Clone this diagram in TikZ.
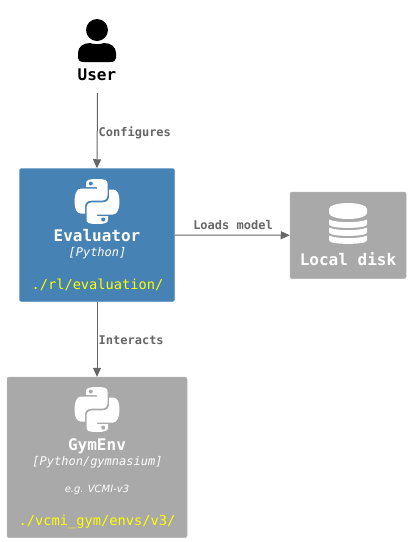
\documentclass[tikz,border=0pt]{standalone}
\usepackage{fontspec}
\setmonofont{DejaVu Sans Mono}
\usetikzlibrary{arrows.meta}
\definecolor{evalblue}{HTML}{4682B4}
\definecolor{evalline}{HTML}{6A9CC6}
\definecolor{extgray}{HTML}{A9A9A9}
\definecolor{extline}{HTML}{B4B4B4}
\definecolor{linkgray}{HTML}{666666}
\definecolor{pathyellow}{HTML}{FFFF00}
\tikzset{
  x=1pt,y=-1pt,
  blue box/.style={draw=evalline,fill=evalblue,rounded corners=2pt,line width=.5pt,inner sep=0pt},
  gray box/.style={draw=extline,fill=extgray,rounded corners=2pt,line width=.5pt,inner sep=0pt},
  txt/.style={inner sep=0pt,anchor=base,font=\ttfamily},
  titletxt/.style={txt,text=white,font=\ttfamily\bfseries\fontsize{16}{18}\selectfont},
  techtxt/.style={txt,text=white,font=\ttfamily\itshape\fontsize{12}{14}\selectfont},
  notetxt/.style={txt,text=white,font=\sffamily\itshape\fontsize{10}{12}\selectfont},
  pathtxt/.style={txt,text=pathyellow,font=\ttfamily\fontsize{13.7}{16}\selectfont},
  linktxt/.style={txt,text=linkgray,font=\ttfamily\bfseries\fontsize{12}{14}\selectfont},
  link/.style={draw=linkgray,line width=1pt,-{Triangle[length=9pt,width=8pt]}},
  pics/pysnake/.style={code={
    \fill[white] (-11,-15) -- (-11,-18) .. controls (-11,-21.5) and (-8,-22.5) .. (0,-22.5)
      .. controls (8,-22.5) and (10.5,-21.5) .. (10.5,-18) -- (10.5,-6)
      .. controls (10.5,-3) and (8.5,-.8) .. (5.5,-.8) -- (-5.5,-.8)
      .. controls (-10,-.8) and (-12,1.5) .. (-12,5) -- (-12,12) -- (-16,12)
      .. controls (-20.5,12) and (-22.5,7) .. (-22.5,0)
      .. controls (-22.5,-7) and (-20.5,-13) .. (-16,-13) -- (0,-13) -- (0,-14.5) -- (-11,-14.5) -- cycle;
    \fill[#1] (-6.2,-18) circle[radius=2];
  }},
  pics/pylogo/.style={code={
    \pic {pysnake=#1};
    \pic[rotate=180] {pysnake=#1};
  }}
}
\setsansfont{DejaVu Sans}
\begin{document}
\begin{tikzpicture}
\useasboundingbox (0,0) rectangle (411,542);
\fill[white] (0,0) rectangle (411,542);

% user icon
\fill[black] (97,30) circle[radius=11];
\fill[black] (84,62) .. controls (80,62) and (78,60.5) .. (78,58) -- (78,53)
  .. controls (78,47) and (83,43) .. (90,43)
  .. controls (93,44.5) and (101,44.5) .. (104,43)
  .. controls (111,43) and (116,47) .. (116,53) -- (116,58)
  .. controls (116,60.5) and (114,62) .. (110,62) -- cycle;
\node[inner sep=0pt,minimum width=38pt,minimum height=38pt] (user) at (97.5,74) {};
\node[txt,font=\ttfamily\bfseries\fontsize{16}{18}\selectfont] (usertxt) at (97,80) {User};

% boxes
\node[blue box,minimum width=155pt,minimum height=133pt] (eval) at (97,235) {};
\node[gray box,minimum width=116pt,minimum height=86.5pt] (disk) at (348,235.25) {};
\node[gray box,minimum width=180pt,minimum height=160.5pt] (gym) at (97,457.3) {};

% connectors
\draw[link] (user.south) -- (eval.north);
\draw[link] (eval.east) -- (disk.west);
\draw[link] (eval.south) -- (gym.north);
\node[linktxt,anchor=base west] (cfg) at (98.5,136) {Configures};
\node[linktxt] (loads) at (233,229.5) {Loads model};
\node[linktxt,anchor=base west] (inter) at (98.5,344) {Interacts};

% evaluator content
\pic at (97,201.5) {pylogo=evalblue};
\node[titletxt] (evalt) at (97,241) {Evaluator};
\node[techtxt] (evalp) at (97.5,256) {[Python]};
\node[pathtxt] (evald) at (97.5,289.3) {./rl/evaluation/};

% disk content
\foreach \yy in {219.5,227.5,235.5}{
  \fill[white] (329,\yy) .. controls (336,\yy+3.5) and (360,\yy+3.5) .. (367,\yy)
    -- (367,\yy+5) .. controls (367,\yy+9.5) and (329,\yy+9.5) .. (329,\yy+5) -- cycle;
}
\fill[white] (348,203) .. controls (358,203) and (367,205.5) .. (367,209)
  -- (367,213) .. controls (367,216.5) and (358,219) .. (348,219)
  .. controls (338,219) and (329,216.5) .. (329,213) -- (329,209)
  .. controls (329,205.5) and (338,203) .. (348,203) -- cycle;
\node[titletxt] (diskt) at (348,265) {Local disk};

% gym content
\pic at (97,409.5) {pylogo=extgray};
\node[titletxt] (gymt) at (97,450) {GymEnv};
\node[techtxt] (gymp) at (97.5,465) {[Python/gymnasium]};
\node[notetxt] (gymn) at (97,492.7) {e.g. VCMI-v3};
\node[pathtxt] (gymd) at (97,525) {./vcmi\_gym/envs/v3/};
\end{tikzpicture}
\end{document}
